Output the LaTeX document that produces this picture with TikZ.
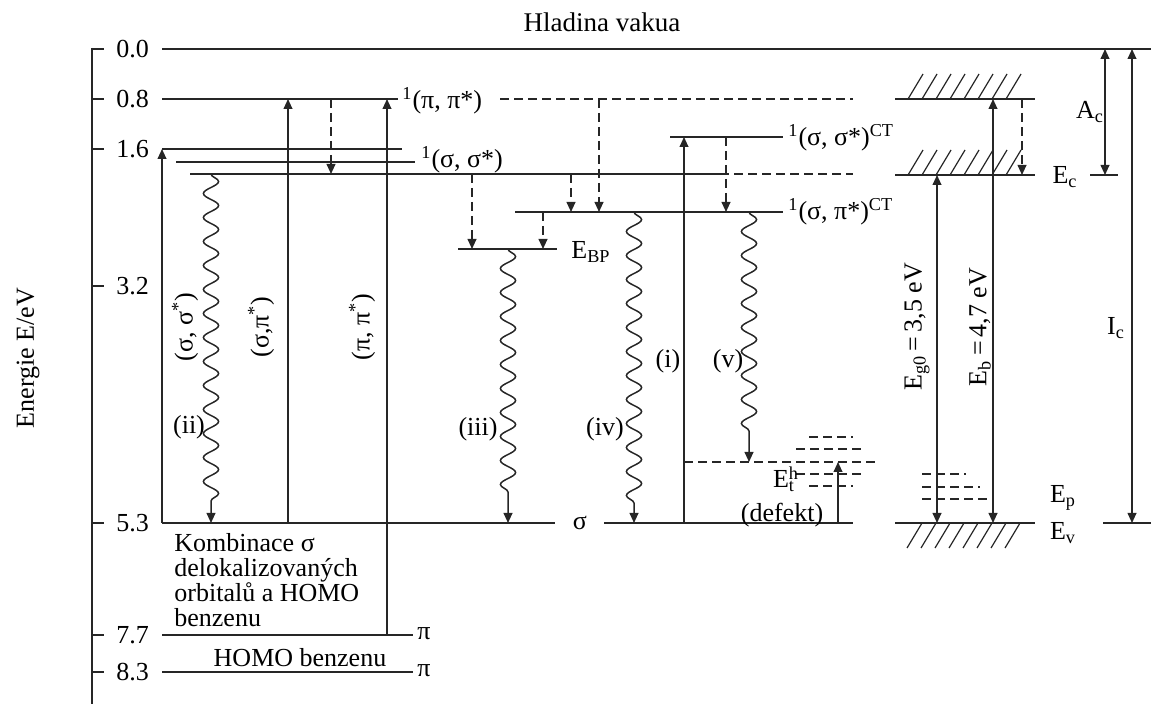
\documentclass[tikz,border=0pt]{standalone}
\usepackage{fontspec}
\setmainfont{Liberation Serif}
\usetikzlibrary{arrows.meta,decorations.pathmorphing}
\colorlet{myink}{black!85}

\begin{document}
\begin{tikzpicture}[
  x=0.5pt, y=-0.5pt,
  font=\fontsize{13}{12.5}\selectfont,
  lvl/.style   ={draw=myink, line width=0.75pt},
  dlvl/.style  ={lvl, dash pattern=on 4.5pt off 2.5pt},
  tip/.style   ={-{Triangle[length=5pt,width=4.4pt]}},
  exc/.style   ={lvl, tip},
  relax/.style ={dlvl, tip},
  both/.style  ={lvl, {Triangle[length=5pt,width=4.4pt]}-{Triangle[length=5pt,width=4.4pt]}},
  wavy/.style  ={lvl, tip, decorate,
                 decoration={snake, segment length=12pt, amplitude=3.8pt, post length=10pt}},
  hatch/.style ={draw=myink, line width=0.6pt},
  note/.style  ={inner sep=1pt},
  tick/.style  ={draw=myink, line width=1pt},
]
\useasboundingbox (0,0) rectangle (1151,704);

% ==================================================== axis
\draw[draw=myink, line width=1.3pt] (92,48) -- (92,704);
\foreach \yy/\val in {49/0.0, 99/0.8, 149/1.6, 286/3.2, 523/5.3, 635/7.7, 672/8.3} {
  \draw[tick] (92,\yy) -- (104,\yy);
  \node[note, anchor=west] (t\val) at (114,\yy) {\val};
}
\node[note, rotate=90] (axlab) at (28,358) {Energie E/eV};
\node[note, font=\fontsize{13.5}{14}\selectfont] (vac) at (602,22) {Hladina vakua};

% ==================================================== levels
\draw[lvl] (162,49) -- (1151,49);
\draw[lvl] (162,99) -- (398,99);
\draw[dlvl] (500,99) -- (853,99);
\draw[lvl] (162,149) -- (402,149);
\draw[lvl] (176,162) -- (415,162);
\draw[lvl] (190,174) -- (720,174);
\draw[dlvl] (720,174) -- (853,174);
\draw[lvl] (670,137) -- (783,137);
\draw[lvl] (515,212) -- (783,212);
\draw[lvl] (458,249) -- (557,249);
\draw[lvl] (162,523) -- (555,523);
\draw[lvl] (604,523) -- (853,523);
\draw[lvl] (162,635) -- (413,635);
\draw[lvl] (162,672) -- (413,672);

\node[note, anchor=west] (pp)   at (400,101) {\textsuperscript{1}(π, π*)};
\node[note, anchor=west] (ss)   at (419,160) {\textsuperscript{1}(σ, σ*)};
\node[note, anchor=west] (ssct) at (786,138) {\textsuperscript{1}(σ, σ*)\textsuperscript{CT}};
\node[note, anchor=west] (spct) at (786,212) {\textsuperscript{1}(σ, π*)\textsuperscript{CT}};
\node[note, anchor=west] (ebp)  at (569,252) {E\textsubscript{BP}};
\node[note] (sig)  at (580,523) {σ};
\node[note, anchor=west] (pi1) at (415,634) {π};
\node[note, anchor=west] (pi2) at (415,671) {π};
\node[note] (homo) at (300,658) {HOMO benzenu};
\node[note, anchor=north west, align=left] (komb) at (172,531)
  {Kombinace σ\\delokalizovaných\\orbitalů a HOMO\\benzenu};

% ==================================================== absorption and relaxation
\draw[exc] (162,523) -- (162,149);
\draw[exc] (288,523) -- (288,99);
\draw[exc] (387,635) -- (387,99);
\draw[exc] (684,523) -- (684,137);

\draw[relax] (331,99) -- (331,174);
\draw[relax] (472,174) -- (472,249);
\draw[relax] (543,212) -- (543,249);
\draw[relax] (571,174) -- (571,212);
\draw[relax] (599,99) -- (599,212);
\draw[relax] (726,137) -- (726,212);

\draw[wavy] (211,174) -- (211,523);
\draw[wavy] (508,249) -- (508,523);
\draw[wavy] (634,212) -- (634,523);
\draw[wavy] (749,212) -- (749,462);

\node[note, rotate=90] (lss) at (185,327) {(σ, σ\textsuperscript{*})};
\node[note, rotate=90] (lsp) at (261,327) {(σ,π\textsuperscript{*})};
\node[note, rotate=90] (lpp) at (362,327) {(π, π\textsuperscript{*})};
\node[note] (ii)  at (189,427) {(ii)};
\node[note] (iii) at (478,429) {(iii)};
\node[note] (iv)  at (605,429) {(iv)};
\node[note] (i)   at (668,361) {(i)};
\node[note] (v)   at (728,361) {(v)};

% defect levels below the CT state
\draw[dlvl] (809,437) -- (853,437);
\draw[dlvl] (796,449) -- (865,449);
\draw[dlvl] (684,462) -- (876,462);
\draw[dlvl] (796,474) -- (865,474);
\draw[dlvl] (809,486) -- (853,486);
\draw[exc] (838,523) -- (838,462);
\node[note, inner sep=0pt] (eth) at (784,479) {E\rlap{\textsuperscript{h}}\textsubscript{t}};
\node[note, inner sep=0pt] (def) at (782,515) {(defekt)};

% ==================================================== RIGHT: band picture
\draw[lvl] (895,99) -- (1035,99);
\draw[lvl] (895,175) -- (1035,175);
\draw[lvl] (895,523) -- (1035,523);
\foreach \i in {0,...,7} {
  \draw[hatch] (908+14*\i,99) -- ++(15,-25);
  \draw[hatch] (908+14*\i,175) -- ++(15,-25);
  \draw[hatch] (922+14*\i,523) -- ++(-15,25);
}
\draw[relax] (1022,99) -- (1022,175);
\draw[both] (937,175) -- (937,523);
\draw[both] (993,99) -- (993,523);
\draw[dlvl] (922,474) -- (966,474);
\draw[dlvl] (922,487) -- (980,487);
\draw[dlvl] (922,499) -- (993,499);
\node[note, rotate=90] (eg) at (917,327) {E\textsubscript{g0}\,=\,3,5 eV};
\node[note, rotate=90] (eb) at (980,327) {E\textsubscript{b}\,=\,4,7 eV};

\draw[lvl] (1090,175) -- (1118,175);
\draw[lvl] (1103,523) -- (1151,523);
\draw[both] (1105,49) -- (1105,175);
\draw[both] (1132,49) -- (1132,523);
\node[note] (ac) at (1090,112) {A\textsubscript{c}};
\node[note] (ic) at (1116,328) {I\textsubscript{c}};
\node[note] (ec) at (1065,177) {E\textsubscript{c}};
\node[note] (ep) at (1063,498) {E\textsubscript{p}};
\node[note] (ev) at (1063,533) {E\textsubscript{v}};
\end{tikzpicture}
\end{document}
